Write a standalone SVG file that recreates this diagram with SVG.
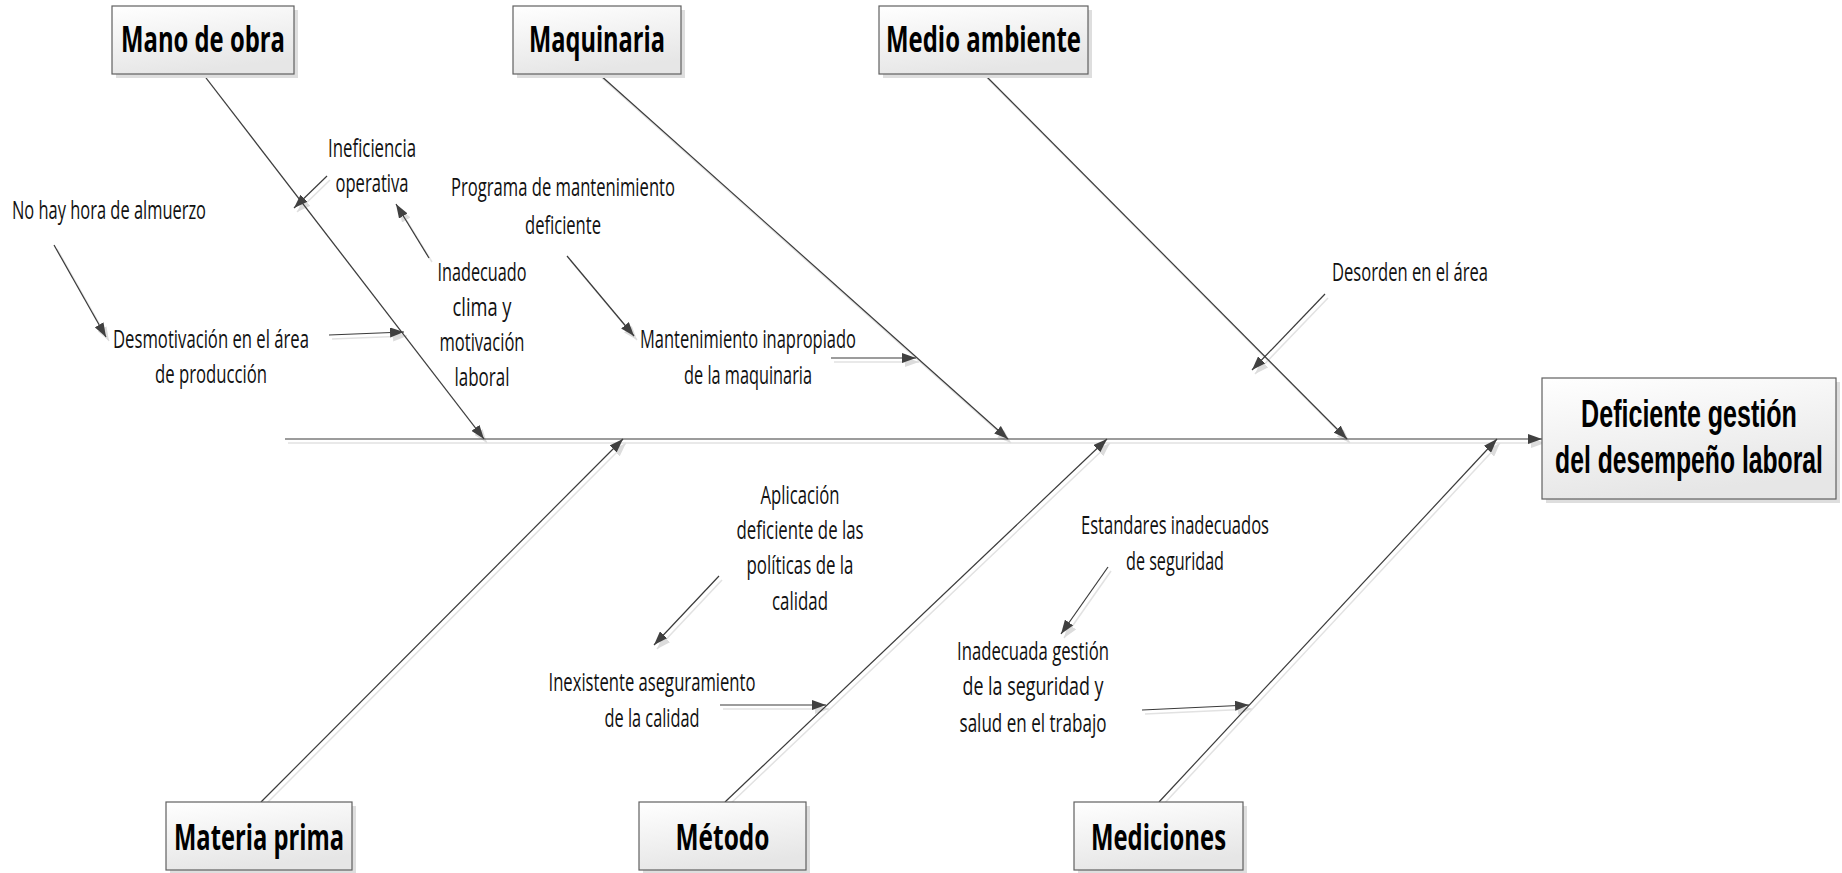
<svg xmlns="http://www.w3.org/2000/svg" width="1842" height="873" viewBox="0 0 1842 873">
  <defs>
    <linearGradient id="boxFill" x1="0" y1="0" x2="0.3" y2="1">
      <stop offset="0" stop-color="#ffffff"/>
      <stop offset="1" stop-color="#e6e6e6"/>
    </linearGradient>
    <marker id="arrow" viewBox="0 0 14 10" refX="14" refY="5" markerWidth="14" markerHeight="10" markerUnits="userSpaceOnUse" orient="auto">
      <path d="M0,0 L14,5 L0,10 z" fill="#404040"/>
    </marker>
    <marker id="arrowShadow" viewBox="0 0 14 10" refX="14" refY="5" markerWidth="14" markerHeight="10" markerUnits="userSpaceOnUse" orient="auto">
      <path d="M0,0 L14,5 L0,10 z" fill="#dcdcdc"/>
    </marker>
  </defs>
  <style>
    .box { fill: url(#boxFill); stroke: #606060; stroke-width: 1.2; }
    .boxShadow { fill: #dedede; }
    .title { font-family: "Open Sans", "Liberation Sans", sans-serif; font-weight: bold; font-size: 36px; fill: #000; text-anchor: middle; }
    .effect { font-family: "Liberation Sans", "Open Sans", sans-serif; font-weight: bold; font-size: 38px; fill: #000; text-anchor: middle; }
    .label { font-family: "Open Sans", "Liberation Sans", sans-serif; font-size: 25px; fill: #111; text-anchor: middle; }
    .conn { stroke: #3a3a3a; stroke-width: 1.2; fill: none; marker-end: url(#arrow); }
    .connShadow { stroke: #e2e2e2; stroke-width: 1.5; fill: none; marker-end: url(#arrowShadow); }
  </style>
  <rect width="1842" height="873" fill="#ffffff"/>

  <!-- connectors: spine, main bones and sub-cause arrows -->
  <g id="connectors">
    <g transform="translate(3,4)">
      <line class="connShadow" x1="285" y1="439" x2="1542" y2="439"/>
      <line class="connShadow" x1="203" y1="74" x2="484" y2="439"/>
      <line class="connShadow" x1="599" y1="74" x2="1008" y2="439"/>
      <line class="connShadow" x1="984" y1="74" x2="1347" y2="439"/>
      <line class="connShadow" x1="261" y1="802" x2="623" y2="439"/>
      <line class="connShadow" x1="725" y1="802" x2="1107" y2="439"/>
      <line class="connShadow" x1="1159" y1="802" x2="1497" y2="439"/>
      <line class="connShadow" x1="327" y1="176" x2="294" y2="208"/>
      <line class="connShadow" x1="54" y1="245" x2="106" y2="337"/>
      <line class="connShadow" x1="329" y1="335" x2="404" y2="332"/>
      <line class="connShadow" x1="429" y1="258" x2="396" y2="204"/>
      <line class="connShadow" x1="567" y1="256" x2="634" y2="336"/>
      <line class="connShadow" x1="831" y1="358" x2="916" y2="358"/>
      <line class="connShadow" x1="1325" y1="294" x2="1252" y2="370"/>
      <line class="connShadow" x1="719" y1="576" x2="654" y2="645"/>
      <line class="connShadow" x1="720" y1="705" x2="826" y2="705"/>
      <line class="connShadow" x1="1108" y1="567" x2="1061" y2="634"/>
      <line class="connShadow" x1="1142" y1="710" x2="1249" y2="705"/>
    </g>
    <line class="conn" x1="285" y1="439" x2="1542" y2="439"/>
    <line class="conn" x1="203" y1="74" x2="484" y2="439"/>
    <line class="conn" x1="599" y1="74" x2="1008" y2="439"/>
    <line class="conn" x1="984" y1="74" x2="1347" y2="439"/>
    <line class="conn" x1="261" y1="802" x2="623" y2="439"/>
    <line class="conn" x1="725" y1="802" x2="1107" y2="439"/>
    <line class="conn" x1="1159" y1="802" x2="1497" y2="439"/>
    <line class="conn" x1="327" y1="176" x2="294" y2="208"/>
    <line class="conn" x1="54" y1="245" x2="106" y2="337"/>
    <line class="conn" x1="329" y1="335" x2="404" y2="332"/>
    <line class="conn" x1="429" y1="258" x2="396" y2="204"/>
    <line class="conn" x1="567" y1="256" x2="634" y2="336"/>
    <line class="conn" x1="831" y1="358" x2="916" y2="358"/>
    <line class="conn" x1="1325" y1="294" x2="1252" y2="370"/>
    <line class="conn" x1="719" y1="576" x2="654" y2="645"/>
    <line class="conn" x1="720" y1="705" x2="826" y2="705"/>
    <line class="conn" x1="1108" y1="567" x2="1061" y2="634"/>
    <line class="conn" x1="1142" y1="710" x2="1249" y2="705"/>
  </g>

  <!-- category boxes -->
  <g id="mano-de-obra">
    <rect class="boxShadow" x="116" y="10" width="182" height="68"/>
    <rect class="box" x="112" y="6" width="182" height="68"/>
    <text class="title" x="203" y="52" textLength="164" lengthAdjust="spacingAndGlyphs">Mano de obra</text>
  </g>
  <g id="maquinaria">
    <rect class="boxShadow" x="517" y="10" width="168" height="68"/>
    <rect class="box" x="513" y="6" width="168" height="68"/>
    <text class="title" x="597" y="52" textLength="136" lengthAdjust="spacingAndGlyphs">Maquinaria</text>
  </g>
  <g id="medio-ambiente">
    <rect class="boxShadow" x="883" y="10" width="209" height="68"/>
    <rect class="box" x="879" y="6" width="209" height="68"/>
    <text class="title" x="983.5" y="52" textLength="195" lengthAdjust="spacingAndGlyphs">Medio ambiente</text>
  </g>
  <g id="materia-prima">
    <rect class="boxShadow" x="170" y="806" width="186" height="68"/>
    <rect class="box" x="166" y="802" width="186" height="68"/>
    <text class="title" x="259" y="850" textLength="170" lengthAdjust="spacingAndGlyphs">Materia prima</text>
  </g>
  <g id="metodo">
    <rect class="boxShadow" x="643" y="806" width="167" height="68"/>
    <rect class="box" x="639" y="802" width="167" height="68"/>
    <text class="title" x="722.5" y="850" textLength="94" lengthAdjust="spacingAndGlyphs">Método</text>
  </g>
  <g id="mediciones">
    <rect class="boxShadow" x="1078" y="806" width="169" height="68"/>
    <rect class="box" x="1074" y="802" width="169" height="68"/>
    <text class="title" x="1158.5" y="850" textLength="135" lengthAdjust="spacingAndGlyphs">Mediciones</text>
  </g>

  <!-- effect: glyphs narrowed by a horizontal scale -->
  <g id="efecto">
    <rect class="boxShadow" x="1546" y="382" width="294" height="121"/>
    <rect class="box" x="1542" y="378" width="294" height="121"/>
    <text class="effect" transform="translate(1689,427) scale(0.65,1)" x="0" y="0" textLength="332" lengthAdjust="spacingAndGlyphs">Deficiente gestión</text>
    <text class="effect" transform="translate(1689,473) scale(0.65,1)" x="0" y="0" textLength="412" lengthAdjust="spacingAndGlyphs">del desempeño laboral</text>
  </g>

  <!-- sub-causes -->
  <g id="ineficiencia-operativa">
    <text class="label" x="372" y="157" textLength="88" lengthAdjust="spacingAndGlyphs">Ineficiencia</text>
    <text class="label" x="372" y="192" textLength="73" lengthAdjust="spacingAndGlyphs">operativa</text>
  </g>
  <g id="no-hay-hora">
    <text class="label" x="109" y="219" textLength="194" lengthAdjust="spacingAndGlyphs">No hay hora de almuerzo</text>
  </g>
  <g id="desmotivacion">
    <text class="label" x="211" y="348" textLength="196" lengthAdjust="spacingAndGlyphs">Desmotivación en el área</text>
    <text class="label" x="211" y="383" textLength="112" lengthAdjust="spacingAndGlyphs">de producción</text>
  </g>
  <g id="inadecuado-clima">
    <text class="label" x="482" y="281" textLength="89" lengthAdjust="spacingAndGlyphs">Inadecuado</text>
    <text class="label" x="482" y="316" textLength="59" lengthAdjust="spacingAndGlyphs">clima y</text>
    <text class="label" x="482" y="351" textLength="85" lengthAdjust="spacingAndGlyphs">motivación</text>
    <text class="label" x="482" y="386" textLength="55" lengthAdjust="spacingAndGlyphs">laboral</text>
  </g>
  <g id="programa-mantenimiento">
    <text class="label" x="563" y="196" textLength="224" lengthAdjust="spacingAndGlyphs">Programa de mantenimiento</text>
    <text class="label" x="563" y="234" textLength="76" lengthAdjust="spacingAndGlyphs">deficiente</text>
  </g>
  <g id="mantenimiento-inapropiado">
    <text class="label" x="748" y="348" textLength="216" lengthAdjust="spacingAndGlyphs">Mantenimiento inapropiado</text>
    <text class="label" x="748" y="384" textLength="128" lengthAdjust="spacingAndGlyphs">de la maquinaria</text>
  </g>
  <g id="desorden">
    <text class="label" x="1410" y="281" textLength="156" lengthAdjust="spacingAndGlyphs">Desorden en el área</text>
  </g>
  <g id="aplicacion-deficiente">
    <text class="label" x="800" y="504" textLength="79" lengthAdjust="spacingAndGlyphs">Aplicación</text>
    <text class="label" x="800" y="539" textLength="127" lengthAdjust="spacingAndGlyphs">deficiente de las</text>
    <text class="label" x="800" y="574" textLength="107" lengthAdjust="spacingAndGlyphs">políticas de la</text>
    <text class="label" x="800" y="610" textLength="56" lengthAdjust="spacingAndGlyphs">calidad</text>
  </g>
  <g id="inexistente-aseguramiento">
    <text class="label" x="652" y="691" textLength="207" lengthAdjust="spacingAndGlyphs">Inexistente aseguramiento</text>
    <text class="label" x="652" y="727" textLength="95" lengthAdjust="spacingAndGlyphs">de la calidad</text>
  </g>
  <g id="estandares">
    <text class="label" x="1175" y="534" textLength="188" lengthAdjust="spacingAndGlyphs">Estandares inadecuados</text>
    <text class="label" x="1175" y="570" textLength="98" lengthAdjust="spacingAndGlyphs">de seguridad</text>
  </g>
  <g id="inadecuada-gestion">
    <text class="label" x="1033" y="660" textLength="152" lengthAdjust="spacingAndGlyphs">Inadecuada gestión</text>
    <text class="label" x="1033" y="695" textLength="141" lengthAdjust="spacingAndGlyphs">de la seguridad y</text>
    <text class="label" x="1033" y="732" textLength="147" lengthAdjust="spacingAndGlyphs">salud en el trabajo</text>
  </g>
</svg>
